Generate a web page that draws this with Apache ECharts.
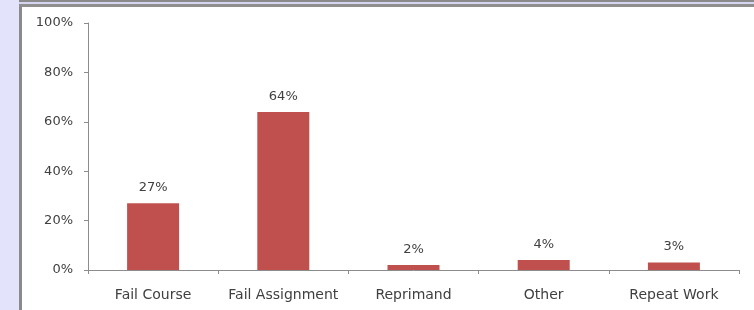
<!DOCTYPE html>
<html>
<head>
<meta charset="utf-8">
<script src="https://cdn.jsdelivr.net/npm/echarts@6/dist/echarts.min.js"></script>
<style>
html,body{margin:0;padding:0;width:754px;height:310px;overflow:hidden;background:#fff;}
#strip{position:absolute;left:0;top:0;width:19px;height:310px;background:#e3e3fb;}
#vline{position:absolute;left:19px;top:0;width:3px;height:310px;background:#8a8a8a;}
#t1{position:absolute;left:19px;top:0;width:735px;height:2px;background:#8a8a8a;}
#t2{position:absolute;left:19px;top:2px;width:735px;height:2px;background:#d6d6f0;}
#t3{position:absolute;left:19px;top:4px;width:735px;height:3px;background:#8f8f8f;}
#chart{position:absolute;left:0;top:0;width:754px;height:310px;}
</style>
</head>
<body>
<div id="strip"></div><div id="vline"></div><div id="t1"></div><div id="t2"></div><div id="t3"></div>
<div id="chart"></div>
<script>
const categories = ['Fail Course', 'Fail Assignment', 'Reprimand', 'Other', 'Repeat Work'];
const values = [27, 64, 2, 4, 3];
const yTicks = [0, 20, 40, 60, 80, 100];

const chart = echarts.init(document.getElementById('chart'), null, {renderer: 'canvas'});
const font = "'DejaVu Sans', sans-serif";
chart.setOption({
  animation: false,
  grid: {left: 88, right: 15, top: 23, bottom: 40, containLabel: false},
  xAxis: {
    type: 'category',
    data: categories,
    axisLine: {lineStyle: {color: '#8c8c8c', width: 1}},
    axisTick: {show: true, alignWithLabel: false, interval: 0, length: 4, lineStyle: {color: '#8c8c8c'}},
    axisLabel: {interval: 0, hideOverlap: false, color: '#404040', fontSize: 14, fontFamily: font, margin: 18}
  },
  yAxis: {
    type: 'value',
    min: yTicks[0], max: yTicks[yTicks.length - 1], interval: 20,
    axisLine: {show: true, lineStyle: {color: '#8c8c8c', width: 1}},
    axisTick: {show: true, length: 4, lineStyle: {color: '#8c8c8c'}},
    splitLine: {show: false},
    axisLabel: {color: '#404040', fontSize: 13, fontFamily: font, margin: 15, formatter: v => v + '%'}
  },
  series: [{
    type: 'bar',
    data: values,
    barWidth: 52,
    itemStyle: {color: '#c0504d'},
    label: {show: true, position: 'top', distance: 9, color: '#404040', fontSize: 13, fontFamily: font, formatter: p => p.value + '%'}
  }]
});
</script>
</body>
</html>
